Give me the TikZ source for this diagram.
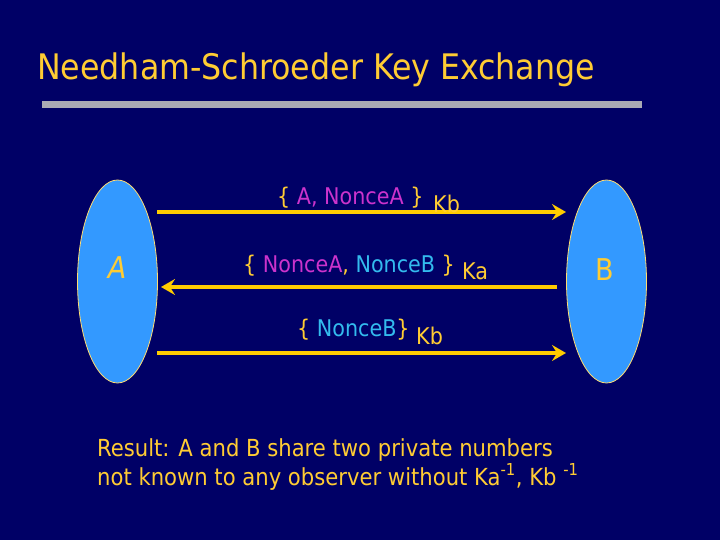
\documentclass[tikz,border=0pt]{standalone}
\usepackage{fontspec}
\setmainfont{DejaVu Sans Condensed}
\usetikzlibrary{arrows.meta,shapes.geometric}
\definecolor{bgnavy}{RGB}{0,0,102}
\definecolor{gold}{RGB}{255,204,51}
\definecolor{arrowgold}{RGB}{255,204,0}
\definecolor{partyblue}{RGB}{51,153,255}
\definecolor{noncea}{RGB}{204,51,204}
\definecolor{nonceb}{RGB}{51,187,238}
\definecolor{bargray}{RGB}{170,170,180}
\tikzset{
  party/.style={ellipse, fill=partyblue, draw=gold!70!white, line width=0.8pt, minimum width=80pt, minimum height=203pt, inner sep=0pt},
  msg/.style={draw=arrowgold, line width=4pt, -{Stealth[length=14pt,width=16pt,inset=5pt]}},
  lbl/.style={anchor=base west, inner sep=0pt, font=\fontsize{23}{26}\selectfont, text=gold},
  restxt/.style={anchor=base west, inner sep=0pt, font=\fontsize{23.5}{27}\selectfont, text=gold},
}
\begin{document}
\begin{tikzpicture}[x=1pt,y=-1pt]
\useasboundingbox (0,0) rectangle (720,540);
\fill[bgnavy] (0,0) rectangle (720,540);
% title
\node[anchor=base west, inner sep=0pt, text=gold, font=\fontsize{35.2}{40}\selectfont] (title) at (37,80) {Needham-Schroeder Key Exchange};
\fill[bargray] (42,101) rectangle (642,108);
% parties
\node[party] (A) at (117.5,281.5) {};
\node[party] (B) at (606.5,281.5) {};
\node[text=gold, font=\fontsize{30}{34}\selectfont\itshape] (Al) at (117,268) {A};
\node[text=gold, font=\fontsize{30}{34}\selectfont] (Bl) at (605,270) {B};
% arrow endpoints
\coordinate (a1s) at (157,212); \coordinate (a1e) at (566,212);
\coordinate (a2s) at (557,287); \coordinate (a2e) at (161,287);
\coordinate (a3s) at (157,353); \coordinate (a3e) at (566,353);
\draw[msg] (a1s) -- (a1e);
\draw[msg] (a2s) -- (a2e);
\draw[msg] (a3s) -- (a3e);
% labels
\node[lbl] (m1) at (277,205) {\{ \textcolor{noncea}{A, NonceA} \}};
\node[lbl] (k1) at (433,212) {Kb};
\node[lbl] (m2) at (243,272) {\{ \textcolor{noncea}{NonceA}, \textcolor{nonceb}{NonceB} \}};
\node[lbl] (k2) at (462,279) {Ka};
\node[lbl] (m3) at (297,336) {\{ \textcolor{nonceb}{NonceB}\}};
\node[lbl] (k3) at (416,344) {Kb};
% result
\node[restxt] (r1) at (97,456) {Result: A and B share two private numbers};
\node[restxt] (r2) at (97,485) {not known to any observer without Ka\textsuperscript{-1}, Kb \textsuperscript{-1}};
\end{tikzpicture}
\end{document}
